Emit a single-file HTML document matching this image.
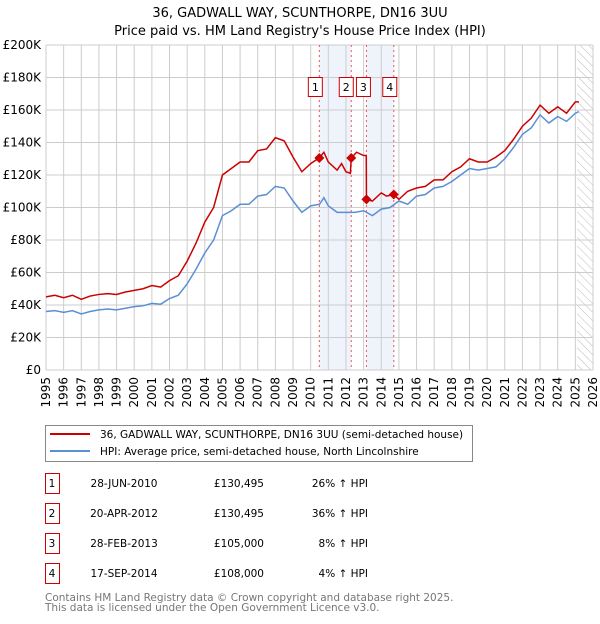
<!DOCTYPE html>
<html><head><meta charset="utf-8"><style>
body{margin:0;background:#fff;width:600px;height:620px;overflow:hidden;font-family:"DejaVu Sans","Liberation Sans",sans-serif;}
</style></head><body>
<svg id="chart" width="600" height="620" xmlns="http://www.w3.org/2000/svg" font-family="DejaVu Sans, Liberation Sans, sans-serif">
<text x="300" y="17" font-size="13" text-anchor="middle">36, GADWALL WAY, SCUNTHORPE, DN16 3UU</text>
<text x="300" y="35" font-size="13" text-anchor="middle">Price paid vs. HM Land Registry's House Price Index (HPI)</text>
<g id="plot"></g>
<g>
<rect x="45.5" y="425.5" width="427" height="36" fill="#fff" stroke="#888"/>
<line x1="50" y1="434" x2="90" y2="434" stroke="#cc0000" stroke-width="2"/>
<text x="100" y="438" font-size="10.5">36, GADWALL WAY, SCUNTHORPE, DN16 3UU (semi-detached house)</text>
<line x1="50" y1="451" x2="90" y2="451" stroke="#5b8fd4" stroke-width="2"/>
<text x="100" y="455" font-size="10.5">HPI: Average price, semi-detached house, North Lincolnshire</text>
</g>
<g id="table" font-size="10.5"></g>
<text x="45" y="601" font-size="10.5" fill="#777">Contains HM Land Registry data © Crown copyright and database right 2025.</text>
<text x="45" y="611" font-size="10.5" fill="#777">This data is licensed under the Open Government Licence v3.0.</text>
</svg>
<script>
const yTicks=[0,20,40,60,80,100,120,140,160,180,200];
const yTickLabels=["£0","£20K","£40K","£60K","£80K","£100K","£120K","£140K","£160K","£180K","£200K"];
const years=[1995,1996,1997,1998,1999,2000,2001,2002,2003,2004,2005,2006,2007,2008,2009,2010,2011,2012,2013,2014,2015,2016,2017,2018,2019,2020,2021,2022,2023,2024,2025,2026];
const hpiDates=[1995,1995.5,1996,1996.5,1997,1997.5,1998,1998.5,1999,1999.5,2000,2000.5,2001,2001.5,2002,2002.5,2003,2003.5,2004,2004.5,2005,2005.5,2006,2006.5,2007,2007.5,2008,2008.5,2009,2009.5,2010,2010.5,2010.75,2011,2011.5,2012,2012.5,2013,2013.5,2014,2014.5,2015,2015.5,2016,2016.5,2017,2017.5,2018,2018.5,2019,2019.5,2020,2020.5,2021,2021.5,2022,2022.5,2023,2023.5,2024,2024.5,2025,2025.2];
const hpiValues=[36,36.5,35.5,36.5,34.5,36,37,37.5,37,38,39,39.5,41,40.5,44,46,53,62,72,80,95,98,102,102,107,108,113,112,104,97,101,102,106,101,97,97,97,98,95,99,100,104,102,107,108,112,113,116,120,124,123,124,125,130,137,145,149,157,152,156,153,158,159];
const redDates=[1995,1995.5,1996,1996.5,1997,1997.5,1998,1998.5,1999,1999.5,2000,2000.5,2001,2001.5,2002,2002.5,2003,2003.5,2004,2004.5,2005,2005.5,2006,2006.5,2007,2007.5,2008,2008.5,2009,2009.5,2010,2010.49,2010.75,2011,2011.5,2011.75,2012,2012.25,2012.3,2012.6,2013,2013.15,2013.16,2013.5,2014,2014.3,2014.71,2015,2015.5,2016,2016.5,2017,2017.5,2018,2018.5,2019,2019.5,2020,2020.5,2021,2021.5,2022,2022.5,2023,2023.5,2024,2024.5,2025,2025.2];
const redValues=[45,46,44.5,46,43.5,45.5,46.5,47,46.5,48,49,50,52,51,55,58,67,78,91,100,120,124,128,128,135,136,143,141,131,122,127,130.5,134,128,123,127,122,121,130.5,134,132,132,105,104,109,107,108,105,110,112,113,117,117,122,125,130,128,128,131,135,142,150,155,163,158,162,158,165,165];
const saleLabels=["1","2","3","4"];
const saleDates=[2010.49,2012.3,2013.16,2014.71];
const salePrices=[130.495,130.495,105,108];
const saleDateText=["28-JUN-2010","20-APR-2012","28-FEB-2013","17-SEP-2014"];
const salePriceText=["£130,495","£130,495","£105,000","£108,000"];
const saleHpiText=["26% ↑ HPI","36% ↑ HPI","8% ↑ HPI","4% ↑ HPI"];

const NS="http://www.w3.org/2000/svg";
const L=46,R=593,T=45,B=370;
const X=d=>L+(d-1995)/(2026-1995)*(R-L);
const Y=v=>B-v/200*(B-T);
function mk(tag,attrs,parent){const e=document.createElementNS(NS,tag);for(const k in attrs)e.setAttribute(k,attrs[k]);parent.appendChild(e);return e;}
const g=document.getElementById('plot');
for(const [a,b] of [[0,1],[2,3]]){
 const r=mk('rect',{x:X(saleDates[a]),y:T,width:X(saleDates[b])-X(saleDates[a]),height:B-T,fill:'#eef3fc'},g);
 
 
}
const defs=mk('defs',{},g);
const pat=mk('pattern',{id:'hatch',width:6,height:6,patternUnits:'userSpaceOnUse',patternTransform:'rotate(-45)'},defs);
mk('line',{x1:0,y1:0,x2:0,y2:6,stroke:'#bbb','stroke-width':1},pat);
const hx=X(2025.1);
const hr=mk('rect',{x:hx,y:T,width:R-hx,height:B-T,fill:'url(#hatch)'},g);


years.forEach(yr=>{
 const l=mk('line',{x1:X(yr),y1:T,x2:X(yr),y2:B,stroke:'#cccccc','stroke-width':1},g);
 
 
 const t=mk('text',{x:0,y:0,'font-size':12,'text-anchor':'end',transform:`translate(${X(yr)+4},${B+7}) rotate(-90)`},g);
 t.textContent=yr;
 
 
});
yTicks.forEach((v,i)=>{
 const l=mk('line',{x1:L,y1:Y(v),x2:R,y2:Y(v),stroke:'#cccccc','stroke-width':1},g);
 
 
 const t=mk('text',{x:L-5,y:Y(v)+4,'font-size':12,'text-anchor':'end'},g);
 t.textContent=yTickLabels[i];
 
 
});
saleDates.forEach(d=>{
 const l=mk('line',{x1:X(d),y1:T,x2:X(d),y2:B,stroke:'#ee5555','stroke-width':1,'stroke-dasharray':'2,3'},g);
 
 
});
const hp=mk('polyline',{points:hpiDates.map((d,i)=>X(d)+','+Y(hpiValues[i])).join(' '),fill:'none',stroke:'#5b8fd4','stroke-width':1.5},g);


const rp=mk('polyline',{points:redDates.map((d,i)=>X(d)+','+Y(redValues[i])).join(' '),fill:'none',stroke:'#cc0000','stroke-width':1.5},g);


saleDates.forEach((d,i)=>{
 const cx=X(d),cy=Y(salePrices[i]);
 const p=mk('polygon',{points:`${cx},${cy-5} ${cx+5},${cy} ${cx},${cy+5} ${cx-5},${cy}`,fill:'#cc0000'},g);
 
 
 const bx=cx-(i==2?3:4)-7+(i==1?-1:0);
 const r=mk('rect',{x:bx,y:77.5,width:14,height:19,fill:'#fff',stroke:'#cc0000'},g);
 
 
 const t=mk('text',{x:bx+7,y:91,'font-size':11,'text-anchor':'middle'},g);
 t.textContent=saleLabels[i];
 
 
});
const tb=document.getElementById('table');
saleLabels.forEach((s,i)=>{
 const cy=483+i*30;
 const r=mk('rect',{x:45.5,y:cy-9.5,width:14,height:20,fill:'#fff',stroke:'#cc0000'},tb);
 
 
 const cells=[[52,'middle',s],[124,'middle',saleDateText[i]],[264,'end',salePriceText[i]],[368,'end',saleHpiText[i]]];
 cells.forEach(c=>{
  const t=mk('text',{x:c[0],y:cy+4,'text-anchor':c[1]},tb);
  t.textContent=c[2];
  
  
 });
});
</script>
</body></html>
